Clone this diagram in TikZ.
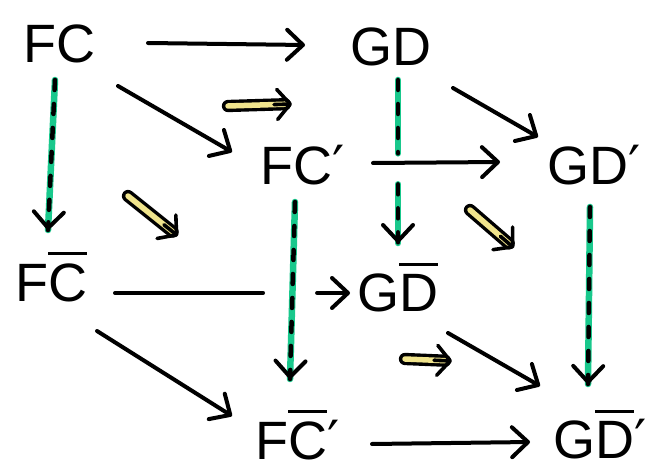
\documentclass[tikz,border=0pt]{standalone}
\usepackage{fontspec}
\setmainfont{Liberation Sans}
\newfontfamily\primefont{DejaVu Sans}
\usetikzlibrary{arrows.meta,calc}
\definecolor{mygreen}{RGB}{25,200,140}
\definecolor{myyellow}{RGB}{240,228,140}
\newsavebox\ovlbox
\newcommand\ovl[1]{\sbox\ovlbox{#1}\rlap{\raisebox{\dimexpr\ht\ovlbox+8pt\relax}{\rule{\wd\ovlbox}{3.2pt}}}\usebox\ovlbox}
\newcommand\prm{{\primefont\char"2032}}
\tikzset{
  lab/.style={inner sep=0pt, anchor=base west, font=\fontsize{54}{60}\selectfont},
  arr/.style={line width=4pt, line cap=round, line join=round, -{Straight Barb[length=16pt,width=30pt,round]}},
  plainline/.style={line width=4pt, line cap=round},
  greenline/.style={line width=6.5pt, draw=mygreen, line cap=round},
  blackdash/.style={line width=4.5pt, line cap=round, dash pattern=on 10pt off 14pt},
  dbl/.style={line width=3.4pt, double=myyellow, double distance=5.5pt, line cap=round},
  cellhead/.style={line width=3.6pt, line cap=round, line join=round, -{Straight Barb[length=13pt,width=30pt,round]}}
}
\newcommand\twocellx[2]{%
  \draw[dbl] (#1) -- ($(#2)!7pt!(#1)$);
  \draw[cellhead] ($(#2)!18pt!(#1)$) -- (#2);}
\begin{document}
\begin{tikzpicture}[x=1pt,y=-1pt]
\path[use as bounding box, fill=white] (0,0) rectangle (670,476);
% nodes
\node[lab] (FC) at (23,63) {FC};
\node[lab] (GD) at (350,66) {GD};
\node[lab] (FCp) at (260,185) {FC\prm};
\node[lab] (GDp) at (547,185) {GD\prm};
\node[lab] (FCb) at (15,301) {F\ovl{C}};
\node[lab] (GDb) at (357,311) {G\ovl{D}};
\node[lab] (FCbp) at (255,459) {F\ovl{C}\prm};
\node[lab] (GDbp) at (553,458) {G\ovl{D}\prm};
% endpoints of vertical and broken arrows
\path ([shift={(32,17)}]FC.base west) coordinate (v1s)
      ([shift={(33,-71)}]FCb.base west) coordinate (v1t)
      ([shift={(48,14)}]GD.base west) coordinate (v2s)
      ([shift={(41,-68)}]GDb.base west) coordinate (v2t)
      ([shift={(35,17)}]FCp.base west) coordinate (v3s)
      ([shift={(35,-80)}]FCbp.base west) coordinate (v3t)
      ([shift={(43,22)}]GDp.base west) coordinate (v4s)
      ([shift={(35,-74)}]GDbp.base west) coordinate (v4t)
      ([shift={(100,-8)}]FCb.base west) coordinate (h1s)
      ([shift={(-7,-18)}]GDb.base west) coordinate (h1t);
% vertical arrows (green with black dashes)
\draw[greenline] (v1s) -- (v1t);
\draw[blackdash] (v1s) -- (v1t);
\draw[arr] ($(v1t)!8pt!(v1s)$) -- (v1t);
\draw[greenline] (v2s) -- ($(v2s)!0.45!(v2t)$);
\draw[greenline] ($(v2s)!0.64!(v2t)$) -- (v2t);
\draw[blackdash] (v2s) -- ($(v2s)!0.45!(v2t)$);
\draw[blackdash] ($(v2s)!0.64!(v2t)$) -- (v2t);
\draw[arr] ($(v2t)!8pt!(v2s)$) -- (v2t);
\draw[greenline] (v3s) -- (v3t);
\draw[blackdash] (v3s) -- (v3t);
\draw[arr] ($(v3t)!8pt!(v3s)$) -- (v3t);
\draw[greenline] (v4s) -- (v4t);
\draw[blackdash] (v4s) -- (v4t);
\draw[arr] ($(v4t)!8pt!(v4s)$) -- (v4t);
% other arrows
\draw[arr] ([shift={(125,-20)}]FC.base west) -- ([shift={(-45,-21)}]GD.base west);
\draw[arr] ([shift={(95,23)}]FC.base west) -- ([shift={(-28,-33)}]FCp.base west);
\draw[arr] ([shift={(103,22)}]GD.base west) -- ([shift={(-9,-48)}]GDp.base west);
\draw[arr] ([shift={(113,-22)}]FCp.base west) -- ([shift={(-47,-23)}]GDp.base west);
\draw[plainline] (h1s) -- ($(h1s)!0.63!(h1t)$);
\draw[arr] ($(h1s)!0.86!(h1t)$) -- (h1t);
\draw[arr] ([shift={(82,30)}]FCb.base west) -- ([shift={(-23,-43)}]FCbp.base west);
\draw[arr] ([shift={(91,22)}]GDb.base west) -- ([shift={(-13,-72)}]GDbp.base west);
\draw[arr] ([shift={(117,-15)}]FCbp.base west) -- ([shift={(-23,-16)}]GDbp.base west);
% 2-cells
\twocellx{228,106}{292,104}
\twocellx{128,196}{178,236}
\twocellx{470,210}{514,248}
\twocellx{405,359}{452,361}
\end{tikzpicture}
\end{document}
